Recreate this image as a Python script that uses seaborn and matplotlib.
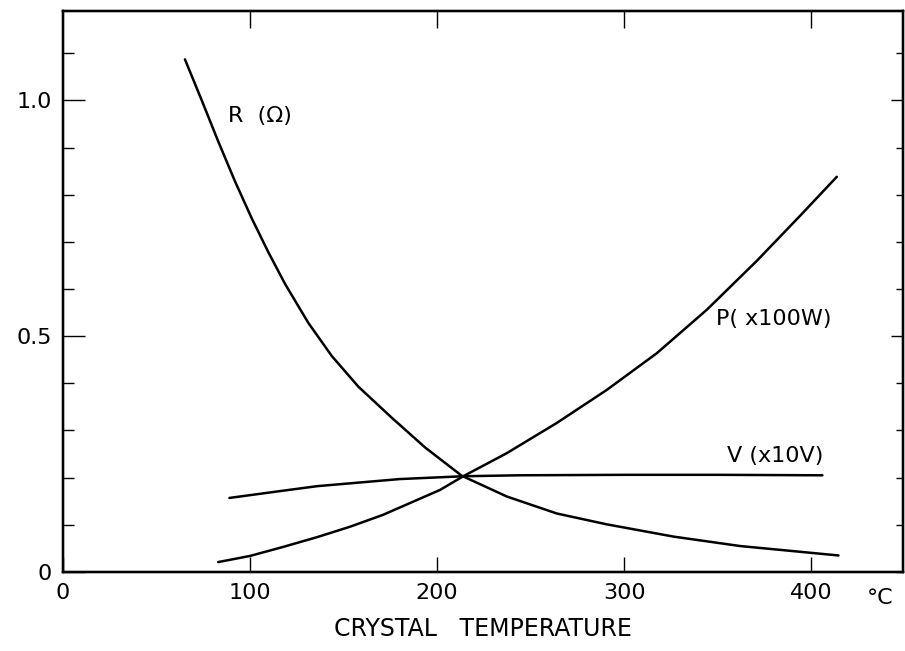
# Crystal temperature characteristics: R, P and V curves

import pandas as pd
import seaborn as sns
import matplotlib.pyplot as plt
from matplotlib.ticker import MultipleLocator, FixedLocator

# Values
r_temp = [65.2, 74.2, 83, 92, 100.9, 109.8, 118.7, 131.2, 143.7, 157.9, 175.8, 193.6, 213.2,
          237.3, 264, 290.7, 326.4, 362, 414.6]
r_ohm = [1.087, 1.000, 0.913, 0.828, 0.750, 0.678, 0.611, 0.528, 0.458, 0.393, 0.327, 0.264,
         0.204, 0.160, 0.124, 0.101, 0.075, 0.055, 0.035]

p_temp = [83, 100, 117.6, 136, 153.5, 171, 201.6, 214, 237.3, 264, 290.7, 317.5, 344.2, 371,
          394, 413.7]
p_100w = [0.021, 0.034, 0.053, 0.074, 0.096, 0.121, 0.174, 0.203, 0.252, 0.316, 0.386, 0.464,
          0.556, 0.660, 0.755, 0.838]

v_temp = [89, 117, 136, 180, 214, 244, 300, 350, 406]
v_10v = [0.157, 0.172, 0.182, 0.197, 0.203, 0.205, 0.206, 0.206, 0.205]

x_ticks = [0, 100, 200, 300, 400]
y_ticks = [0, 0.5, 1.0]
y_labels = ['0', '0.5', '1.0']

df = pd.concat([
    pd.DataFrame({'temp': r_temp, 'value': r_ohm, 'curve': 'R'}),
    pd.DataFrame({'temp': p_temp, 'value': p_100w, 'curve': 'P'}),
    pd.DataFrame({'temp': v_temp, 'value': v_10v, 'curve': 'V'}),
])

sns.set_style('ticks')
plt.rcParams['font.family'] = ['DejaVu Sans']
plt.rcParams['text.color'] = 'black'
plt.rcParams['axes.labelcolor'] = 'black'
plt.rcParams['xtick.color'] = 'black'
plt.rcParams['ytick.color'] = 'black'
plt.rcParams['axes.edgecolor'] = 'black'

fig = plt.figure(figsize=(9.05, 6.51), dpi=100)
ax = fig.add_axes([0.0696, 0.1214, 0.928, 0.862])

for name, grp in df.groupby('curve'):
    sns.lineplot(data=grp, x='temp', y='value', ax=ax, color='black', lw=1.8,
                 estimator=None, sort=False, legend=False)

ax.set_xlim(0, 449)
ax.set_ylim(0, 1.19)

ax.set_xticks(x_ticks)
ax.set_xticklabels([str(t) for t in x_ticks], fontsize=16)
ax.set_yticks(y_ticks)
ax.set_yticklabels(y_labels, fontsize=16)
ax.yaxis.set_minor_locator(MultipleLocator(0.1))
ax.tick_params(axis='x', direction='in', length=11, width=1.0, pad=8)
ax.tick_params(axis='y', which='major', direction='in', length=16, width=1.0, pad=8)
ax.tick_params(axis='y', which='minor', direction='in', length=8, width=1.0)
ax.set_xlabel('CRYSTAL   TEMPERATURE', fontsize=17, labelpad=10)
ax.set_ylabel('')

for s in ax.spines.values():
    s.set_linewidth(1.6)

# top and right tick marks
ax_top = ax.twiny()
ax_top.set_xlim(ax.get_xlim())
ax_top.xaxis.set_major_locator(FixedLocator([100, 200, 300, 400]))
ax_top.tick_params(axis='x', direction='in', length=12, width=1.0, labeltop=False)

ax_right = ax.twinx()
ax_right.set_ylim(ax.get_ylim())
ax_right.yaxis.set_major_locator(FixedLocator([0.5, 1.0]))
ax_right.yaxis.set_minor_locator(MultipleLocator(0.1))
ax_right.tick_params(axis='y', which='major', direction='in', length=9, width=1.0, labelright=False)
ax_right.tick_params(axis='y', which='minor', direction='in', length=5, width=1.0)
for a in (ax_top, ax_right):
    for s in a.spines.values():
        s.set_linewidth(1.6)

# curve labels
ax.text(88, 0.966, 'R  (\u03a9)', fontsize=16, va='center', ha='left')
ax.text(349, 0.537, 'P( x100W)', fontsize=16, va='center', ha='left')
ax.text(355, 0.246, 'V (x10V)', fontsize=16, va='center', ha='left')
ax.text(437, -0.055, '\u00b0C', fontsize=16, va='center', ha='center', clip_on=False)

fig.savefig('out.png', dpi=100)
